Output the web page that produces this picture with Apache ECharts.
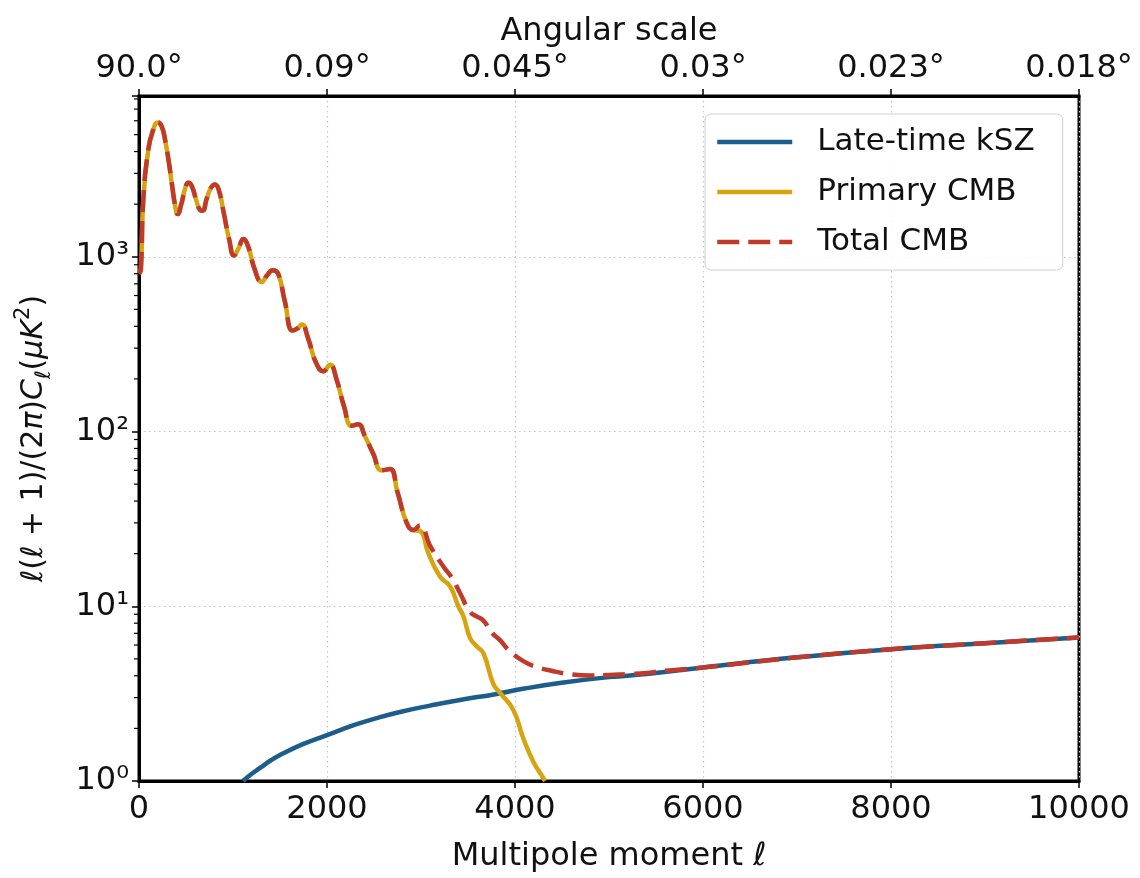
<!DOCTYPE html>
<html>
<head>
<meta charset="utf-8">
<script src="https://cdn.jsdelivr.net/npm/echarts@6/dist/echarts.min.js"></script>
<style>
html,body{margin:0;padding:0;background:#fff;}
#chart{width:1140px;height:878px;}
</style>
</head>
<body>
<div id="chart"></div>
<script>
// ---- data ----
const xTicks = [0, 2000, 4000, 6000, 8000, 10000];
const xTickLabels = ['0', '2000', '4000', '6000', '8000', '10000'];
const angularLabels = ['90.0°', '0.09°', '0.045°', '0.03°', '0.023°', '0.018°'];
const yTickLabels = ['10⁰', '10¹', '10²', '10³'];
const yMinorTicks = [2,3,4,5,6,7,8,9,20,30,40,50,60,70,80,90,200,300,400,500,600,700,800,900,2000,3000,4000,5000,6000,7000,8000];

const kszEll = [1106, 1200, 1300, 1400, 1500, 1750, 2000, 2300, 2564, 2800, 3096, 3400, 3805, 4100, 4514, 5000, 5400, 6000, 7000, 8000, 9000, 10000];
const kszVal = [1.0, 1.1, 1.2, 1.31, 1.41, 1.63, 1.83, 2.1, 2.32, 2.5, 2.7, 2.9, 3.15, 3.38, 3.66, 3.93, 4.09, 4.46, 5.1, 5.68, 6.15, 6.62];

const primEll = [2, 20, 46, 99, 150, 199, 240, 277, 320, 348, 385, 411, 450, 490, 525, 560, 610, 650, 677, 720, 770, 809, 850, 900, 960, 1011, 1060, 1110, 1160, 1230, 1305, 1360, 1422, 1480, 1550, 1635, 1690, 1731, 1800, 1880, 1961, 2032, 2100, 2180, 2262, 2333, 2400, 2490, 2582, 2670, 2750, 2848, 2918, 2989, 3080, 3202, 3309, 3397, 3450, 3521, 3592, 3663, 3769, 3840, 3982, 4089, 4195, 4301, 4320];
const primVal = [800, 850, 2136, 4110, 5300, 5870, 5600, 4680, 3400, 2656, 1950, 1755, 2000, 2450, 2656, 2550, 2100, 1850, 1832, 2150, 2500, 2594, 2400, 1800, 1250, 1017, 1120, 1265, 1150, 850, 718, 780, 836, 800, 560, 378, 390, 410, 340, 250, 221, 241, 200, 140, 108, 110, 95, 75, 60, 61, 45, 30, 27.3, 27, 20, 14.8, 13, 10, 8.8, 6.6, 5.9, 5.4, 3.6, 3.2, 2.55, 1.75, 1.29, 1.04, 1.0];

const totEll = [2, 20, 46, 99, 150, 199, 240, 277, 320, 348, 385, 411, 450, 490, 525, 560, 610, 650, 677, 720, 770, 809, 850, 900, 960, 1011, 1060, 1110, 1160, 1230, 1305, 1360, 1422, 1480, 1550, 1635, 1690, 1731, 1800, 1880, 1961, 2032, 2100, 2180, 2262, 2333, 2400, 2490, 2582, 2670, 2750, 2848, 2918, 2989, 3100, 3238, 3330, 3415, 3521, 3600, 3663, 3760, 3840, 3950, 4089, 4200, 4408, 4600, 4800, 5000, 5188, 5400, 5543, 6000, 7000, 8000, 9000, 10000];
const totVal = [800, 850, 2136, 4110, 5300, 5870, 5600, 4680, 3400, 2656, 1950, 1755, 2000, 2450, 2656, 2550, 2100, 1850, 1832, 2150, 2500, 2594, 2400, 1800, 1250, 1017, 1120, 1265, 1150, 850, 718, 780, 836, 800, 560, 378, 390, 410, 340, 250, 221, 241, 200, 140, 108, 110, 95, 75, 60, 61, 45, 30, 27.3, 29, 22, 16.9, 14.5, 11.9, 9.3, 8.7, 8.3, 7.0, 6.4, 5.5, 4.85, 4.55, 4.25, 4.08, 4.02, 4.04, 4.09, 4.15, 4.25, 4.46, 5.1, 5.68, 6.15, 6.62];

const seriesNames = ['Late-time kSZ', 'Primary CMB', 'Total CMB'];
// ---- end data ----

const FONT = 'DejaVu Sans';
const zip = (a, b) => a.map((v, i) => [v, b[i]]);
const chart = echarts.init(document.getElementById('chart'), null, {renderer: 'canvas'});

const axisLineStyle = {show: true, lineStyle: {color: '#000', width: 3}};
const tickStyle = {show: true, length: 7, inside: false, lineStyle: {color: '#000', width: 1.5}};
const gridLine = {show: true, lineStyle: {color: '#c4c4c4', width: 1.2, type: [1.5, 3.5]}};

const option = {
  animation: false,
  backgroundColor: '#fff',
  grid: {left: 139, right: 61, top: 96, bottom: 92, show: true, borderColor: '#000', borderWidth: 3, backgroundColor: 'transparent'},
  legend: {
    orient: 'vertical',
    left: 705, top: 114,
    data: seriesNames,
    itemWidth: 75, itemHeight: 14, itemGap: 14,
    padding: [10, 28, 10, 10],
    borderColor: '#d0d0d0', borderWidth: 1, borderRadius: 6,
    backgroundColor: 'rgba(255,255,255,0.85)',
    lineStyle: {width: 4.5},
    itemStyle: {opacity: 0, borderWidth: 0},
    textStyle: {fontFamily: FONT, fontSize: 31, color: '#111', lineHeight: 36, padding: [0, 0, 0, 20]},
    selectedMode: false
  },
  xAxis: [
    {
      type: 'value', min: xTicks[0], max: xTicks[xTicks.length - 1], interval: 2000, position: 'bottom',
      axisLine: axisLineStyle, axisTick: tickStyle, splitLine: gridLine,
      axisLabel: {fontFamily: FONT, fontSize: 32, color: '#111', margin: 13,
        formatter: (v) => { const i = xTicks.indexOf(v); return i >= 0 ? xTickLabels[i] : ''; }},
      name: 'Multipole moment ℓ', nameLocation: 'middle', nameGap: 60,
      nameTextStyle: {fontFamily: FONT, fontSize: 32, color: '#111'}
    },
    {
      type: 'value', min: xTicks[0], max: xTicks[xTicks.length - 1], interval: 2000, position: 'top',
      axisLine: axisLineStyle, axisTick: tickStyle, splitLine: {show: false},
      axisLabel: {fontFamily: FONT, fontSize: 32, color: '#111', margin: 11,
        formatter: (v) => { const i = xTicks.indexOf(v); return i >= 0 ? angularLabels[i] : ''; }},
      name: 'Angular scale', nameLocation: 'middle', nameGap: 48,
      nameTextStyle: {fontFamily: FONT, fontSize: 32, color: '#111'}
    }
  ],
  yAxis: {
    type: 'log', logBase: 10, min: 1, max: 8318,
    axisLine: axisLineStyle, axisTick: tickStyle, splitLine: gridLine,
    axisLabel: {fontFamily: FONT, fontSize: 32, color: '#111', margin: 10,
      formatter: (v) => {
        const l = Math.log10(v); const e = Math.round(l);
        if (Math.abs(l - e) > 1e-6 || e < 0 || e >= yTickLabels.length) return '';
        return yTickLabels[e];
      }},
    name: '{it|ℓ}({it|ℓ} + 1)/(2{it|π}){it|C}{sub|ℓ}({it|μK}{sup|2})',
    nameLocation: 'middle', nameRotate: 90, nameGap: 84,
    nameTextStyle: {
      fontFamily: FONT, fontSize: 30, color: '#111', lineHeight: 42,
      rich: {
        it: {fontFamily: FONT, fontSize: 30, fontStyle: 'italic', color: '#111', lineHeight: 42},
        sub: {fontFamily: FONT, fontSize: 21, fontStyle: 'italic', color: '#111', verticalAlign: 'bottom', lineHeight: 21},
        sup: {fontFamily: FONT, fontSize: 21, color: '#111', verticalAlign: 'top', lineHeight: 21}
      }
    }
  },
  series: [
    {
      name: seriesNames[0], type: 'line', data: zip(kszEll, kszVal), showSymbol: false, symbol: 'none',
      smooth: 0.5, z: 2, color: '#1c5d8c',
      lineStyle: {color: '#1c5d8c', width: 4.5}
    },
    {
      name: seriesNames[1], type: 'line', data: zip(primEll, primVal), showSymbol: false, symbol: 'none',
      smooth: 0.5, z: 3, color: '#d6a411',
      lineStyle: {color: '#d6a411', width: 4.5}
    },
    {
      name: seriesNames[2], type: 'line', data: zip(totEll, totVal), showSymbol: false, symbol: 'none',
      smooth: 0.5, z: 4, color: '#c0392b',
      lineStyle: {color: '#c0392b', width: 4.5, type: [22, 9], cap: 'butt'}
    },
    {
      name: 'minorTicks', type: 'custom', coordinateSystem: 'cartesian2d', silent: true, clip: false,
      data: yMinorTicks.map(v => [0, v]),
      renderItem: (params, api) => {
        const p = api.coord([api.value(0), api.value(1)]);
        return {type: 'line', shape: {x1: p[0] - 5, y1: p[1], x2: p[0] - 1, y2: p[1]}, style: {stroke: '#000', lineWidth: 1.2}};
      },
      z: 5
    }
  ]
};
chart.setOption(option);
</script>
</body>
</html>
